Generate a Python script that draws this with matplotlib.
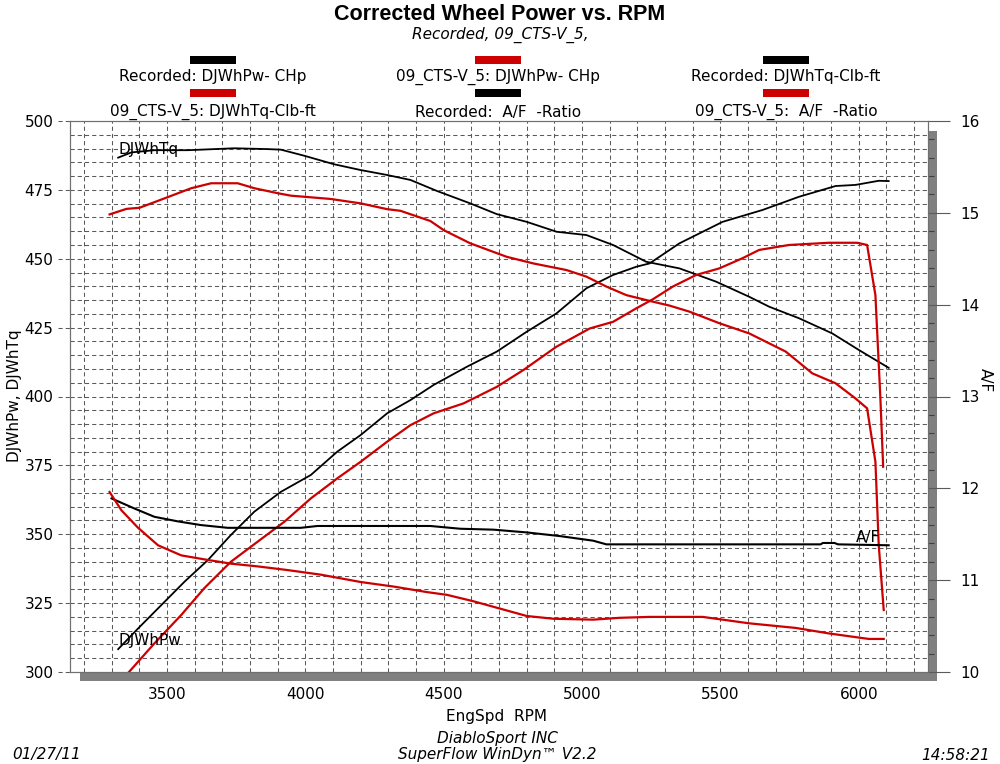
import matplotlib
matplotlib.use("Agg")
import matplotlib.pyplot as plt
from matplotlib.patches import Rectangle
from matplotlib.ticker import MultipleLocator
import matplotlib.transforms as mtransforms

plt.rcParams['font.family'] = ['DejaVu Sans']
plt.rcParams['lines.scale_dashes'] = False

# ---------------- data ----------------
rec_pw_rpm = [3324, 3396, 3480, 3564, 3648, 3731, 3816, 3912, 4020, 4116, 4200, 4296, 4380, 4464,
              4584, 4692, 4800, 4908, 5016, 5112, 5196, 5244, 5352, 5508, 5652, 5784, 5916, 5988,
              6072, 6108]
rec_pw = [308.3, 315.8, 324.3, 332.8, 340.6, 349.7, 358.2, 365.4, 371.5, 380.0, 386.0, 393.9, 398.7,
          404.2, 410.8, 416.3, 423.5, 430.2, 439.3, 444.1, 447.1, 448.3, 455.6, 463.4, 467.7, 472.5,
          476.4, 476.8, 478.3, 478.2]

rec_tq_rpm = [3324, 3372, 3455, 3576, 3743, 3864, 3912, 3996, 4104, 4200, 4296, 4380, 4476, 4596,
              4692, 4800, 4908, 5016, 5112, 5232, 5352, 5484, 5604, 5676, 5784, 5904, 6000, 6108]
rec_tq = [486.7, 488.6, 489.4, 489.4, 490.1, 489.8, 489.6, 487.4, 484.3, 482.2, 480.4, 478.6, 474.6,
          470.1, 466.2, 463.4, 459.8, 458.6, 455.0, 448.9, 446.5, 441.7, 436.2, 432.6, 428.4, 422.9,
          416.9, 410.4]

cts_pw_rpm = [3293, 3364, 3455, 3552, 3635, 3731, 3828, 3924, 4020, 4116, 4200, 4296, 4380, 4464,
              4572, 4692, 4788, 4908, 5028, 5112, 5196, 5256, 5328, 5412, 5496, 5580, 5640, 5748,
              5892, 5994, 6030, 6060, 6078, 6088]
cts_pw = [292.2, 300.1, 310.4, 320.7, 330.4, 340.0, 347.3, 354.5, 363.0, 370.3, 376.3, 383.6, 389.6,
          393.9, 397.5, 403.5, 409.6, 418.1, 424.7, 427.1, 432.0, 435.3, 439.9, 444.1, 446.5, 450.2,
          453.2, 455.0, 455.8, 455.8, 455.0, 436.8, 399.3, 374.5]

cts_tq_rpm = [3293, 3354, 3401, 3491, 3588, 3660, 3756, 3816, 3900, 3948, 3996, 4092, 4200, 4296,
              4344, 4452, 4500, 4596, 4728, 4824, 4944, 5016, 5088, 5160, 5244, 5316, 5388, 5496,
              5604, 5736, 5832, 5916, 5988, 6030, 6060, 6072, 6090]
cts_tq = [466.1, 468.1, 468.5, 471.9, 475.6, 477.4, 477.4, 475.6, 473.8, 472.9, 472.5, 471.7, 470.1,
          468.0, 467.4, 463.7, 460.4, 455.6, 450.7, 448.3, 445.9, 443.5, 439.9, 436.8, 434.7, 433.0,
          430.8, 426.6, 422.9, 416.3, 408.4, 404.8, 399.3, 395.7, 376.3, 346.1, 322.5]

rec_af_rpm = [3300, 3383, 3455, 3540, 3623, 3720, 3828, 3984, 4044, 4218, 4452, 4560, 4680, 4800,
              4920, 5040, 5088, 5262, 5862, 5870, 5912, 5925, 6108]
rec_af = [11.89, 11.78, 11.69, 11.64, 11.60, 11.57, 11.57, 11.57, 11.59, 11.59, 11.59, 11.56, 11.55,
          11.52, 11.48, 11.43, 11.39, 11.39, 11.39, 11.405, 11.405, 11.39, 11.38]

cts_af_rpm = [3293, 3336, 3396, 3468, 3552, 3648, 3731, 3828, 3936, 4056, 4200, 4320, 4440, 4512,
              4608, 4704, 4800, 4896, 5040, 5136, 5244, 5436, 5604, 5772, 5892, 6036, 6090]
cts_af = [11.96, 11.76, 11.57, 11.38, 11.27, 11.22, 11.18, 11.15, 11.11, 11.06, 10.98, 10.93, 10.87,
          10.84, 10.77, 10.69, 10.61, 10.58, 10.57, 10.59, 10.60, 10.60, 10.53, 10.48, 10.42, 10.36,
          10.36]

x_ticks = [3500, 4000, 4500, 5000, 5500, 6000]
y_ticks = [300, 325, 350, 375, 400, 425, 450, 475, 500]
y2_ticks = [10, 11, 12, 13, 14, 15, 16]

legend_labels = ["Recorded: DJWhPw- CHp", "09_CTS-V_5: DJWhPw- CHp", "Recorded: DJWhTq-Clb-ft",
                 "09_CTS-V_5: DJWhTq-Clb-ft", "Recorded:  A/F  -Ratio", "09_CTS-V_5:  A/F  -Ratio"]

RED = '#cc0000'
BLACK = '#000000'
legend_colors = [BLACK, RED, BLACK, RED, BLACK, RED]

FS = 11

# ---------------- figure ----------------
W, H = 1000, 764
fig = plt.figure(figsize=(10, 7.64), dpi=100)
fig.patch.set_facecolor('white')

def fx(px):
    return px / W

def fy(py):
    return 1 - py / H

L, R, T, B = 70, 928, 121, 672
ax = fig.add_axes([fx(L), fy(B), fx(R) - fx(L), fy(T) - fy(B)])
ax2 = ax.twinx()

# shadow
shadow_col = '#808080'
fig.patches.append(Rectangle((fx(R), fy(681)), fx(937) - fx(R), fy(131) - fy(681),
                             transform=fig.transFigure, facecolor=shadow_col, edgecolor='none', zorder=-1))
fig.patches.append(Rectangle((fx(80), fy(681)), fx(937) - fx(80), fy(B) - fy(681),
                             transform=fig.transFigure, facecolor=shadow_col, edgecolor='none', zorder=-1))

ax.set_xlim(3150, 6250)
ax.set_ylim(300, 500)
ax2.set_ylim(10, 16)

# grid
grid_kw = dict(color='#5a5a5a', linewidth=0.75, linestyle=(0, (3.0, 2.2)), zorder=0)
for xv in range(3200, 6250, 100):
    ax.axvline(xv, **grid_kw)
for yv in range(305, 500, 5):
    ax.axhline(yv, **grid_kw)

# major tick extensions (dashed)
trans_l = mtransforms.blended_transform_factory(ax.transAxes, ax.transData)
for yv in y_ticks:
    ax.plot([-0.014, 0], [yv, yv], transform=trans_l, clip_on=False, **grid_kw)

ax.set_xticks(x_ticks)
ax.set_yticks(y_ticks)
ax.tick_params(axis='x', length=0, pad=11, labelsize=FS)
ax.tick_params(axis='y', length=0, pad=12, labelsize=FS)
ax2.set_yticks(y2_ticks)
ax2.yaxis.set_minor_locator(MultipleLocator(0.2))
ax2.tick_params(axis='y', which='major', length=16, width=0.8, color='#5a5a5a', pad=7, labelsize=FS,
                direction='out')
ax2.tick_params(axis='y', which='minor', length=4, width=0.8, color='#404040', direction='out')

for a in (ax, ax2):
    for s in a.spines.values():
        s.set_color('#707070')
        s.set_linewidth(0.8)

# curves
ax.plot(rec_pw_rpm, rec_pw, color=BLACK, lw=1.3, zorder=3)
ax.plot(rec_tq_rpm, rec_tq, color=BLACK, lw=1.3, zorder=3)
ax.plot(cts_pw_rpm, cts_pw, color=RED, lw=1.6, zorder=3)
ax.plot(cts_tq_rpm, cts_tq, color=RED, lw=1.6, zorder=3)
ax2.plot(rec_af_rpm, rec_af, color=BLACK, lw=1.5, zorder=3)
ax2.plot(cts_af_rpm, cts_af, color=RED, lw=1.6, zorder=3)

ax.text(3324, 489.5, "DJWhTq", fontsize=FS, va='center', ha='left', zorder=4)
ax.text(3324, 311.6, "DJWhPw", fontsize=FS, va='center', ha='left', zorder=4)
ax2.text(5989, 11.47, "A/F", fontsize=FS, va='center', ha='left', zorder=4)

fig.text(fx(15), fy(396), "DJWhPw, DJWhTq", rotation=90, fontsize=FS, ha='center', va='center')
fig.text(fx(985), fy(380), "A/F", rotation=270, fontsize=FS, ha='center', va='center')

# titles
fig.text(0.5, fy(15), "Corrected Wheel Power vs. RPM", fontsize=15.5, fontweight='bold',
         family='Liberation Sans', ha='center', va='center')
fig.text(0.5, fy(35), "Recorded, 09_CTS-V_5,", fontsize=FS, style='italic', ha='center', va='center')

# legend
col_x = [213, 498, 786]
rows = [(60, 77), (93, 112)]
for i, (lab, col) in enumerate(zip(legend_labels, legend_colors)):
    r, c = divmod(i, 3)
    cx = col_x[c]
    sy, ty = rows[r]
    fig.patches.append(Rectangle((fx(cx - 23), fy(sy + 4)), fx(46), 8 / H,
                                 transform=fig.transFigure, facecolor=col, edgecolor='none'))
    fig.text(fx(cx), fy(ty), lab, fontsize=FS, ha='center', va='center')

# bottom texts
fig.text(fx(497), fy(716), "EngSpd  RPM", fontsize=FS, ha='center', va='center')
fig.text(fx(497), fy(738), "DiabloSport INC", fontsize=FS, style='italic', ha='center', va='center')
fig.text(fx(497), fy(755), "SuperFlow WinDyn\u2122 V2.2", fontsize=FS, style='italic', ha='center',
         va='center')
fig.text(fx(12), fy(755), "01/27/11", fontsize=FS, style='italic', ha='left', va='center')
fig.text(fx(990), fy(755), "14:58:21", fontsize=FS, style='italic', ha='right', va='center')

fig.savefig("out.png", dpi=100)
